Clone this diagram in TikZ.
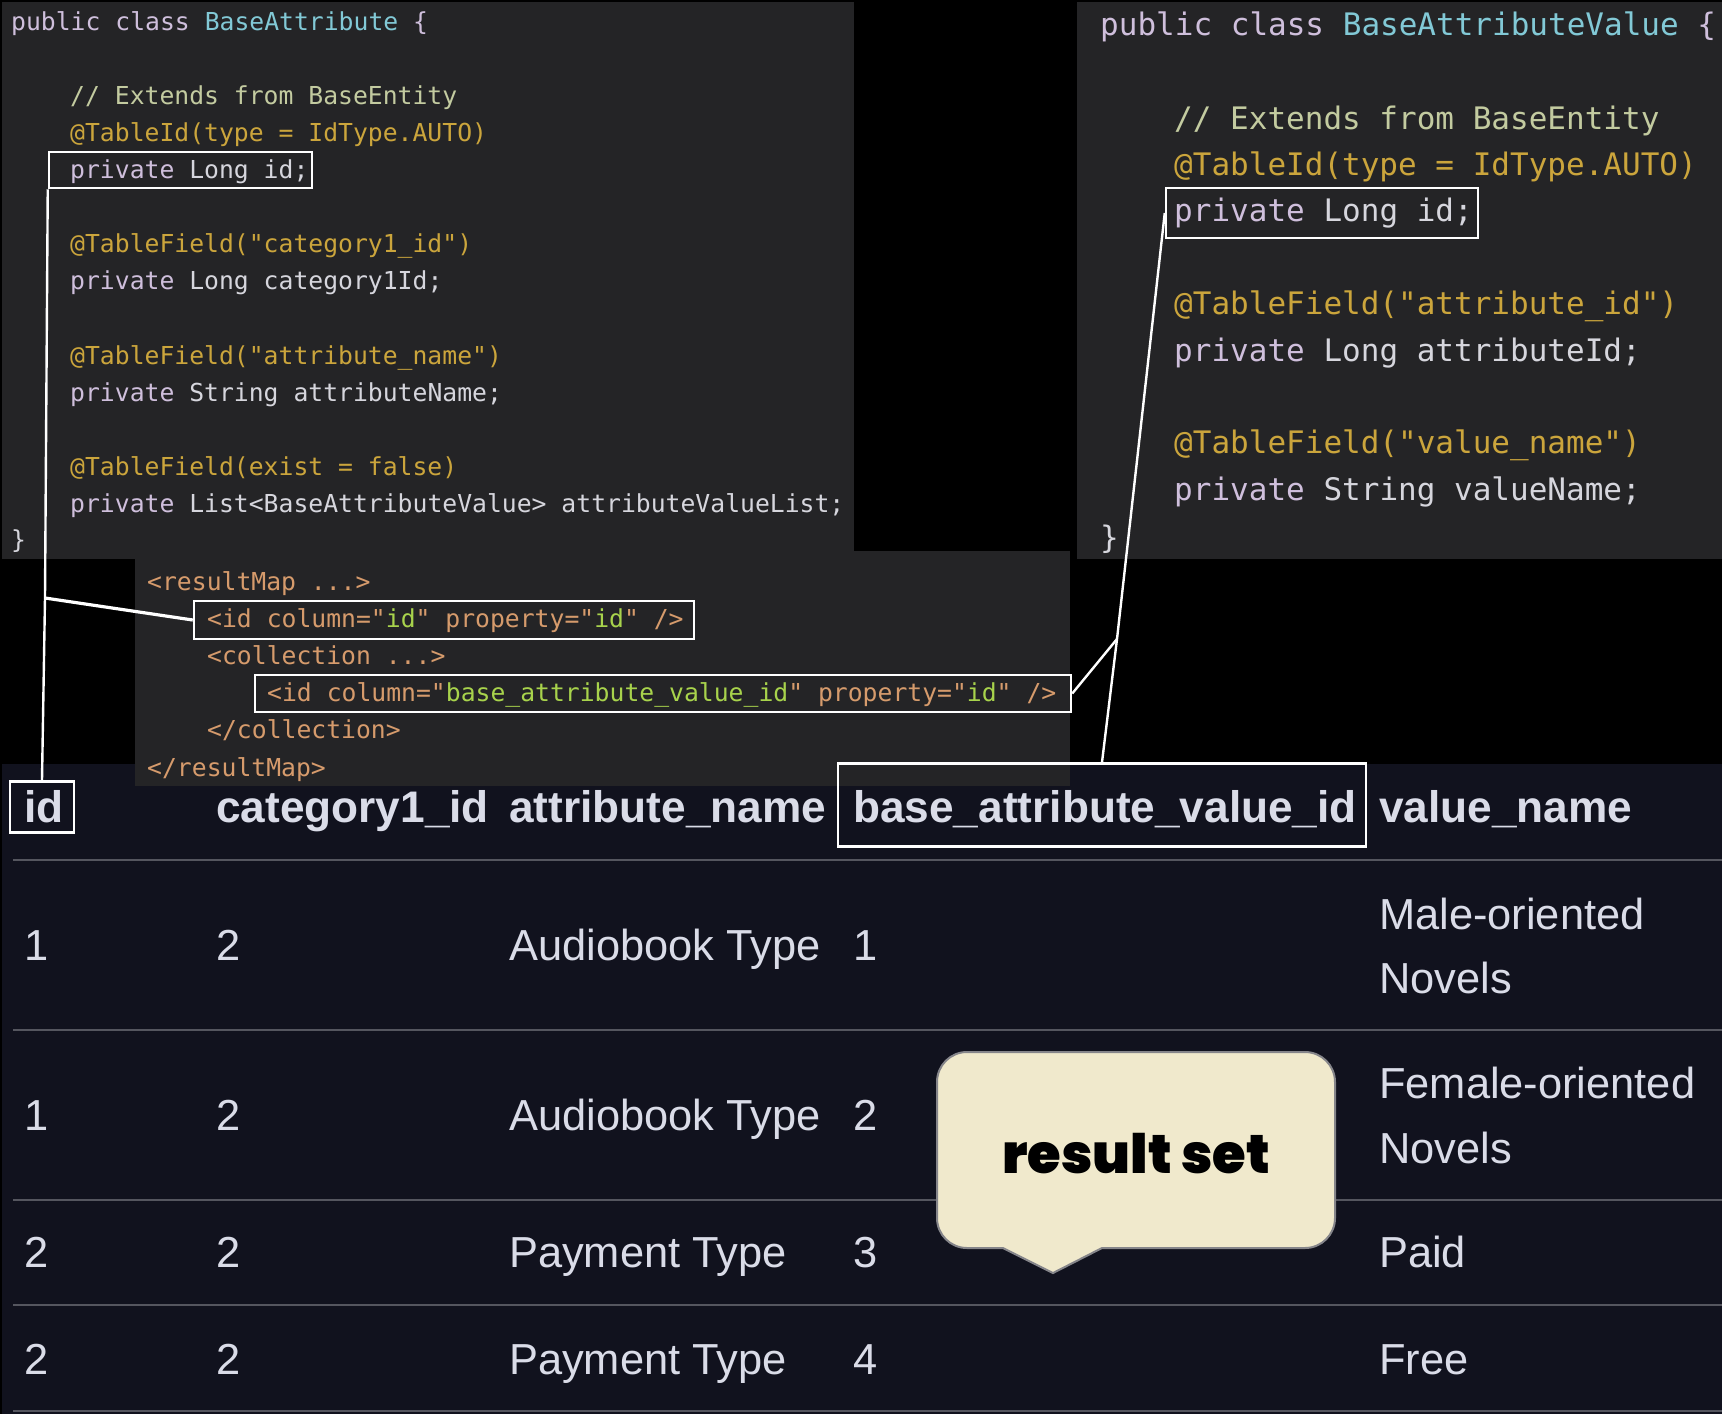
\documentclass[tikz,border=0pt]{standalone}
\usepackage{fontspec}
\newfontfamily\codefont{DejaVu Sans Mono}
\newfontfamily\tablefont{Liberation Sans}
\newfontfamily\calloutfont{Poppins Black}

\definecolor{pagebg}{HTML}{000000}
\definecolor{panelbg}{HTML}{242426}
\definecolor{tablebg}{HTML}{11121E}
\definecolor{rulegrey}{HTML}{55565F}
\definecolor{tabletext}{HTML}{DADCE8}
\definecolor{calloutbg}{HTML}{F0E9CC}
\definecolor{calloutedge}{HTML}{85858A}
\definecolor{codeplain}{HTML}{D6D6DD}
\definecolor{codekw}{HTML}{CFBFDC}
\definecolor{codetype}{HTML}{82C9D6}
\definecolor{codenote}{HTML}{C3CBA0}
\definecolor{codeanno}{HTML}{CBA53C}
\definecolor{xmltag}{HTML}{D69B6C}
\definecolor{xmlstr}{HTML}{A8D34C}

\newcommand{\kw}[1]{\textcolor{codekw}{#1}}
\newcommand{\ty}[1]{\textcolor{codetype}{#1}}
\newcommand{\st}[1]{\textcolor{xmlstr}{#1}}

\tikzset{
    smallcode/.style={anchor=base west, inner sep=0pt, text=codeplain, font=\codefont\fontsize{24.73}{30}\selectfont},
    bigcode/.style={anchor=base west, inner sep=0pt, text=codeplain, font=\codefont\fontsize{31}{36}\selectfont},
    notetext/.style={text=codenote},
    annotext/.style={text=codeanno},
    tagtext/.style={text=xmltag},
    hlbox/.style={draw=white, line width=2.5pt, inner sep=0pt},
    linkline/.style={draw=white, line width=2.4pt},
    cell/.style={anchor=base west, inner sep=0pt, text=tabletext, font=\tablefont\fontsize{43.4}{50}\selectfont},
    headcell/.style={cell, font=\tablefont\bfseries\fontsize{44.2}{50}\selectfont},
    tablerule/.style={draw=rulegrey, line width=1.8pt},
}

\begin{document}
\begin{tikzpicture}[x=1pt,y=-1pt]
    \useasboundingbox (0,0) rectangle (1722,1414);
    \fill[pagebg] (0,0) rectangle (1722,1414);

    % panels
    \fill[tablebg] (2,764) rectangle (1722,1414);
    \fill[panelbg] (2,2) rectangle (854,559);
    \fill[panelbg] (1077,2) rectangle (1722,559);
    \fill[panelbg] (135,551) rectangle (1070,786);

    % BaseAttribute
    \node[smallcode] (attrclass) at (11,30) {\kw{public class} \ty{BaseAttribute} \kw{\{}};
    \node[smallcode,notetext] (attrnote) at (70,104) {// Extends from BaseEntity};
    \node[smallcode,annotext] (attranno) at (70,141) {@TableId(type = IdType.AUTO)};
    \node[smallcode] (attrid) at (70,178) {\kw{private} Long id;};
    \node[smallcode,annotext] (catanno) at (70,252) {@TableField("category1\_id")};
    \node[smallcode] (catfield) at (70,289) {\kw{private} Long category1Id;};
    \node[smallcode,annotext] (nameanno) at (70,364) {@TableField("attribute\_name")};
    \node[smallcode] (namefield) at (70,401) {\kw{private} String attributeName;};
    \node[smallcode,annotext] (listanno) at (70,475) {@TableField(exist = false)};
    \node[smallcode] (listfield) at (70,512) {\kw{private} List<BaseAttributeValue> attributeValueList;};
    \node[smallcode] (attrend) at (11,548) {\}};

    % BaseAttributeValue
    \node[bigcode] (valclass) at (1100,35) {\kw{public class} \ty{BaseAttributeValue} \kw{\{}};
    \node[bigcode,notetext] (valnote) at (1174,129) {// Extends from BaseEntity};
    \node[bigcode,annotext] (valanno) at (1174,175) {@TableId(type = IdType.AUTO)};
    \node[bigcode] (valid) at (1174,221) {\kw{private} Long id;};
    \node[bigcode,annotext] (linkanno) at (1174,314) {@TableField("attribute\_id")};
    \node[bigcode] (linkfield) at (1174,361) {\kw{private} Long attributeId;};
    \node[bigcode,annotext] (vnameanno) at (1174,453) {@TableField("value\_name")};
    \node[bigcode] (vnamefield) at (1174,500) {\kw{private} String valueName;};
    \node[bigcode] (valend) at (1100,548) {\}};

    % resultMap
    \node[smallcode,tagtext] (mapopen) at (147,590) {<resultMap ...>};
    \node[smallcode,tagtext] (mapid) at (207,627) {<id column="\st{id}" property="\st{id}" />};
    \node[smallcode,tagtext] (collopen) at (207,664) {<collection ...>};
    \node[smallcode,tagtext] (collid) at (267,701) {<id column="\st{base\_attribute\_value\_id}" property="\st{id}" />};
    \node[smallcode,tagtext] (collclose) at (207,738) {</collection>};
    \node[smallcode,tagtext] (mapclose) at (147,776) {</resultMap>};

    % table head
    \node[headcell] (headid) at (24,822) {id};
    \node[headcell] (headcat) at (216,822) {category1\_id};
    \node[headcell] (headname) at (509,822) {attribute\_name};
    \node[headcell] (headvalid) at (853,822) {base\_attribute\_value\_id};
    \node[headcell] (headval) at (1379,822) {value\_name};

    % table rows
    \foreach \y in {860,1030,1200,1305,1411}
        \draw[tablerule] (13,\y) -- (1722,\y);

    \node[cell] (idone) at (24,960) {1};
    \node[cell] (catone) at (216,960) {2};
    \node[cell] (nameone) at (509,960) {Audiobook Type};
    \node[cell] (valone) at (853,960) {1};
    \node[cell] (maleone) at (1379,929) {Male-oriented};
    \node[cell] (maletwo) at (1379,993) {Novels};

    \node[cell] (idtwo) at (24,1130) {1};
    \node[cell] (cattwo) at (216,1130) {2};
    \node[cell] (nametwo) at (509,1130) {Audiobook Type};
    \node[cell] (valtwo) at (853,1130) {2};
    \node[cell] (femaleone) at (1379,1098) {Female-oriented};
    \node[cell] (femaletwo) at (1379,1163) {Novels};

    \node[cell] (idthree) at (24,1267) {2};
    \node[cell] (catthree) at (216,1267) {2};
    \node[cell] (namethree) at (509,1267) {Payment Type};
    \node[cell] (valthree) at (853,1267) {3};
    \node[cell] (paid) at (1379,1267) {Paid};

    \node[cell] (idfour) at (24,1374) {2};
    \node[cell] (catfour) at (216,1374) {2};
    \node[cell] (namefour) at (509,1374) {Payment Type};
    \node[cell] (valfour) at (853,1374) {4};
    \node[cell] (free) at (1379,1374) {Free};

    % highlight boxes
    \node[hlbox, minimum width=263pt, minimum height=36pt] (attridbox) at (180.5,170) {};
    \node[hlbox, minimum width=312pt, minimum height=50pt] (validbox) at (1322,213) {};
    \node[hlbox, minimum width=500pt, minimum height=38pt] (mapidbox) at (444,620) {};
    \node[hlbox, minimum width=816pt, minimum height=37pt] (collidbox) at (663,693.5) {};
    \node[hlbox, minimum width=64pt, minimum height=51pt] (headidbox) at (42,807) {};
    \node[hlbox, minimum width=528pt, minimum height=83pt] (headvalidbox) at (1102,805) {};

    % links
    \coordinate (leftjoin) at (45,598);
    \coordinate (rightjoin) at (1117,639);
    \draw[linkline] (attridbox.south west) -- (leftjoin) -- (headidbox.north);
    \draw[linkline, line width=3.2pt] (leftjoin) -- (mapidbox.west);
    \draw[linkline] (validbox.west) -- (rightjoin) -- (headvalidbox.north);
    \draw[linkline] (rightjoin) -- (collidbox.east);

    % callout
    \draw[fill=calloutbg, draw=calloutedge, line width=2pt, rounded corners=30pt]
        (1136,1052) -- (1335,1052) -- (1335,1248) [sharp corners] -- (1102,1248) -- (1053,1273) -- (1003,1248) [rounded corners=30pt] -- (937,1248) -- (937,1052) -- cycle;
    \node[anchor=base, inner sep=0pt, text=black, font=\calloutfont\fontsize{54.4}{60}\selectfont] (calloutlabel) at (1136,1173) {result set};
\end{tikzpicture}
\end{document}
